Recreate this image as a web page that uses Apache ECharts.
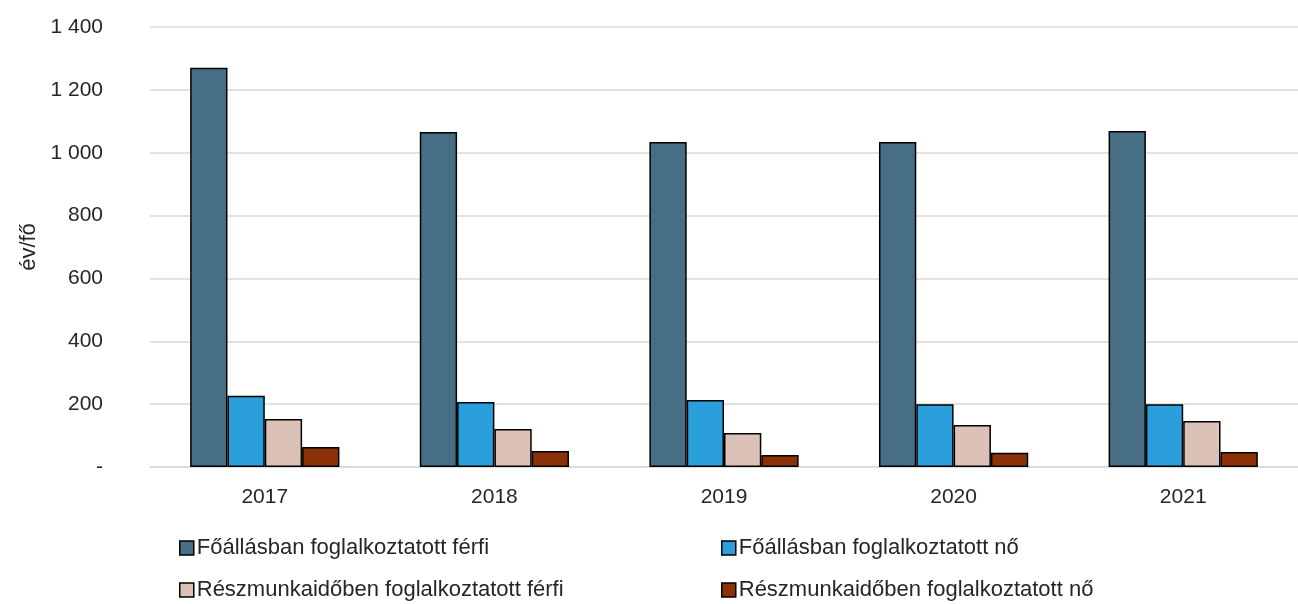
<!DOCTYPE html>
<html>
<head>
<meta charset="utf-8">
<script src="https://cdn.jsdelivr.net/npm/echarts@6/dist/echarts.min.js"></script>
<style>
  html, body { margin: 0; padding: 0; background: #fff; }
  #chart { width: 1298px; height: 604px; }
</style>
</head>
<body>
<div id="chart"></div>
<script>
// évek
const years = ['2017', '2018', '2019', '2020', '2021']
// sorozatok (év/fő)
const seriesNames = [
  'Főállásban foglalkoztatott férfi',
  'Főállásban foglalkoztatott nő',
  'Részmunkaidőben foglalkoztatott férfi',
  'Részmunkaidőben foglalkoztatott nő'
]
const foallasFerfi = [1270, 1066, 1034, 1034, 1069]
const foallasNo = [227, 207, 213, 200, 200]
const reszFerfi = [153, 121, 108, 134, 146]
const reszNo = [64, 51, 38, 45, 48]
const colors = ['#466e84', '#2b9fdc', '#dcc2b6', '#8b3208']

const font = 'Liberation Sans, Arial, sans-serif'
const textColor = '#262626'

function fmt (v) {
  if (v === 0) return '-'
  return String(v).replace(/\B(?=(\d{3})+(?!\d))/g, ' ')
}

const values = [foallasFerfi, foallasNo, reszFerfi, reszNo]
const series = seriesNames.map((name, i) => ({
  name: name,
  type: 'bar',
  data: values[i],
  barGap: '0%',
  barCategoryGap: '35%',
  itemStyle: { color: colors[i], borderColor: '#000', borderWidth: 1.5 }
}))

// jelmagyarázat: két sor, két oszlop
const legendPos = [
  { left: 179, top: 536 },
  { left: 721, top: 536 },
  { left: 179, top: 578 },
  { left: 721, top: 578 }
]
const legends = seriesNames.map((name, i) => ({
  data: [name],
  left: legendPos[i].left,
  top: legendPos[i].top,
  padding: 0,
  itemWidth: 14,
  itemHeight: 14,
  itemGap: 6,
  icon: 'rect',
  itemStyle: { borderColor: '#000', borderWidth: 1.5 },
  textStyle: { fontFamily: font, fontSize: 22, lineHeight: 24, color: textColor, padding: [0, 0, 0, -2] }
}))

const chart = echarts.init(document.getElementById('chart'))
chart.setOption({
  animation: false,
  color: colors,
  legend: legends,
  grid: { left: 150, right: -10, top: 27, bottom: 137, containLabel: false },
  xAxis: {
    type: 'category',
    data: years,
    axisTick: { show: false },
    axisLine: { lineStyle: { color: '#d9d9d9', width: 1.5 } },
    axisLabel: { fontFamily: font, fontSize: 21, color: textColor, margin: 20 }
  },
  yAxis: {
    type: 'value',
    min: 0,
    max: 1400,
    interval: 200,
    name: 'év/fő',
    nameLocation: 'middle',
    nameRotate: 90,
    nameGap: 108,
    nameTextStyle: { fontFamily: font, fontSize: 22, color: textColor },
    axisLine: { show: false },
    axisTick: { show: false },
    splitLine: { lineStyle: { color: '#d9d9d9', width: 1.5 } },
    axisLabel: { fontFamily: font, fontSize: 21, color: textColor, margin: 47, formatter: fmt }
  },
  series: series
})
</script>
</body>
</html>
